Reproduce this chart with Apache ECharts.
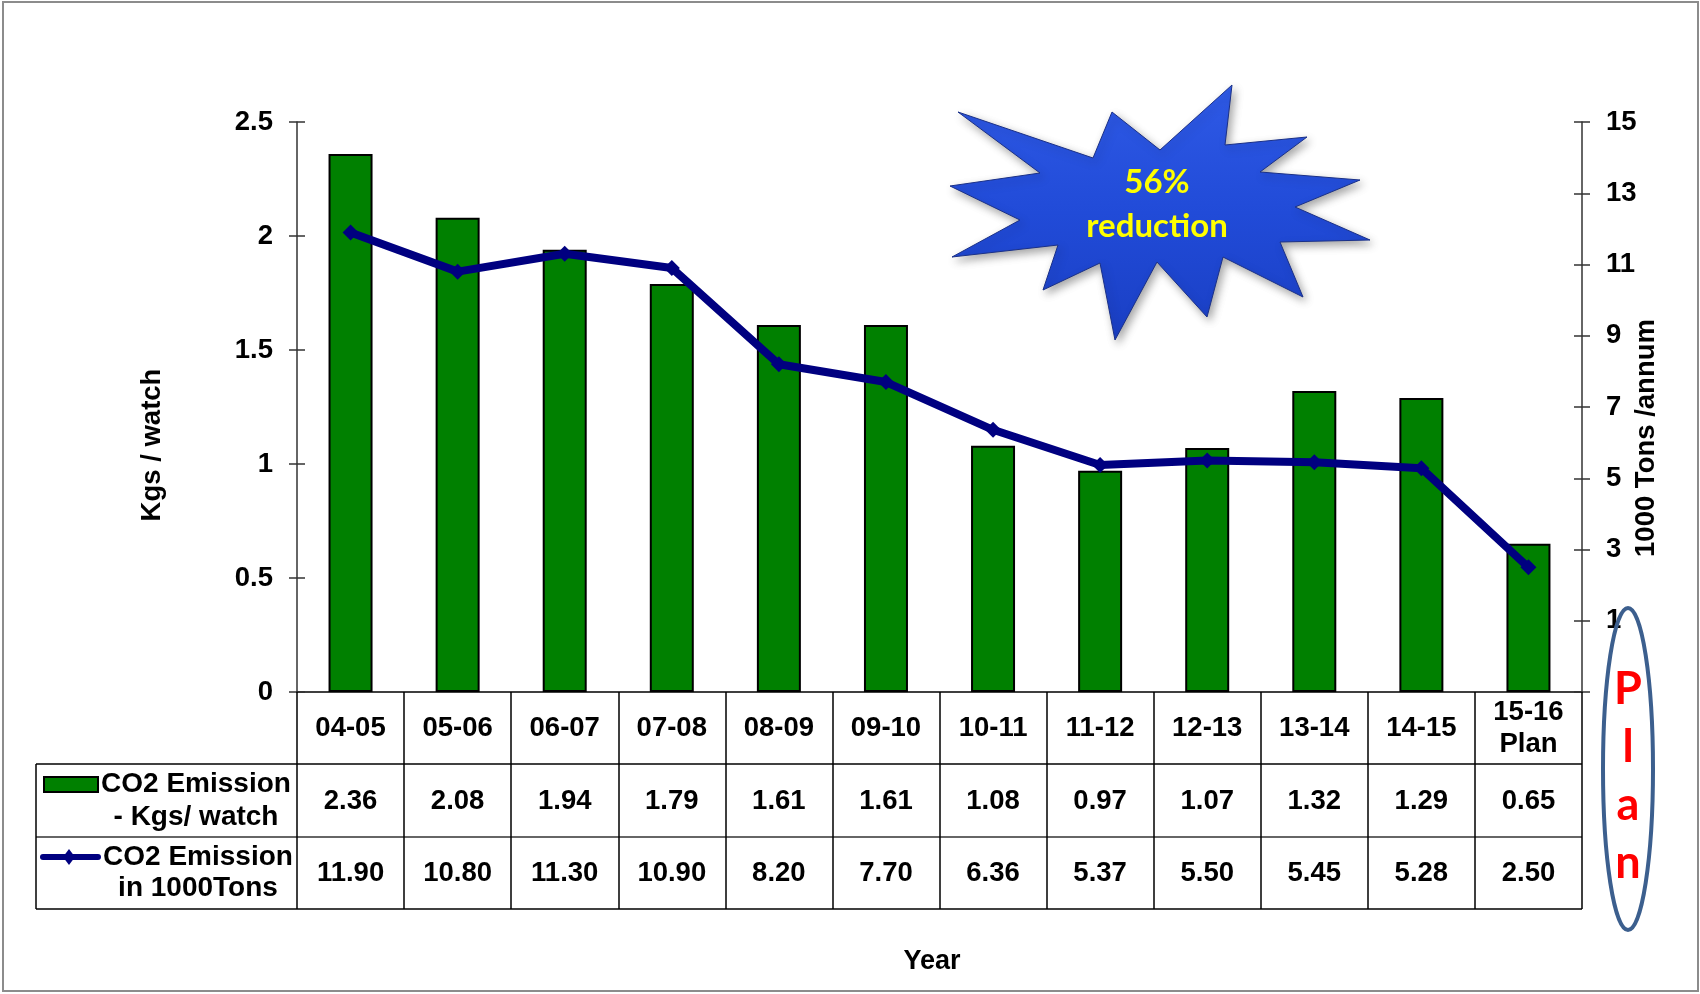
<!DOCTYPE html>
<html>
<head>
<meta charset="utf-8">
<title>CO2 Emission</title>
<script src="https://cdn.jsdelivr.net/npm/echarts@6/dist/echarts.min.js"></script>
<style>
  html, body { margin: 0; padding: 0; background: #fff; }
  #chart { width: 1700px; height: 994px; }
</style>
</head>
<body>
<div id="chart"></div>
<script>
// Financial years, with the last one being a plan figure
const categories = ['04-05', '05-06', '06-07', '07-08', '08-09', '09-10', '10-11', '11-12', '12-13', '13-14', '14-15', '15-16\nPlan'];
// CO2 emission per watch (kg)
const kgsPerWatch = [2.36, 2.08, 1.94, 1.79, 1.61, 1.61, 1.08, 0.97, 1.07, 1.32, 1.29, 0.65];
// CO2 emission in thousand tons per annum
const tonsThousand = [11.90, 10.80, 11.30, 10.90, 8.20, 7.70, 6.36, 5.37, 5.50, 5.45, 5.28, 2.50];
// Right axis ticks and labels
const rightTicks = [-1, 1, 3, 5, 7, 9, 11, 13, 15];
const rightLabels = [1, 3, 5, 7, 9, 11, 13, 15];

const FONT = "'Liberation Sans', Arial, sans-serif";
const chart = echarts.init(document.getElementById('chart'), null, { renderer: 'canvas' });

const boldText = { fontFamily: FONT, fontWeight: 'bold', fontSize: 27.5, color: '#000' };

// Starburst outline (pixel space)
const burst = [
  [958, 112], [1093, 158], [1112, 112], [1160, 150], [1232, 85], [1225, 145],
  [1307, 137], [1260, 172], [1360, 180], [1295, 207], [1370, 240], [1280, 242],
  [1303, 297], [1223, 257], [1207, 317], [1157, 262], [1115, 340], [1100, 263],
  [1043, 290], [1058, 245], [952, 257], [1020, 220], [950, 186], [1040, 173]
];

const option = {
  animation: false,
  backgroundColor: '#fff',
  grid: { left: 297, right: 118, top: 122, bottom: 302, containLabel: false },
  xAxis: [
    {
      type: 'category',
      data: categories,
      boundaryGap: true,
      axisLine: { lineStyle: { color: '#000', width: 1.5 } },
      axisTick: { show: true, length: 217, lineStyle: { color: '#000', width: 1.5 } },
      axisLabel: Object.assign({ margin: 36, verticalAlign: 'middle', lineHeight: 32, interval: 0, align: 'center' }, boldText)
    },
    {
      type: 'category',
      data: categories,
      position: 'bottom',
      axisLine: { show: false },
      axisTick: { show: false },
      axisLabel: Object.assign({
        margin: 109, verticalAlign: 'middle', interval: 0,
        formatter: (v, i) => kgsPerWatch[i].toFixed(2)
      }, boldText)
    },
    {
      type: 'category',
      data: categories,
      position: 'bottom',
      axisLine: { show: false },
      axisTick: { show: false },
      axisLabel: Object.assign({
        margin: 181, verticalAlign: 'middle', interval: 0,
        formatter: (v, i) => tonsThousand[i].toFixed(2)
      }, boldText)
    }
  ],
  yAxis: [
    {
      type: 'value', position: 'left', min: 0, max: 2.5, interval: 0.5,
      axisLine: { show: true, lineStyle: { color: '#333', width: 1.5 } },
      axisTick: { show: true, inside: false, length: 8, lineStyle: { color: '#333', width: 1.5 } },
      axisLabel: Object.assign({ margin: 24 }, boldText),
      splitLine: { show: false }
    },
    {
      type: 'value', position: 'right', min: -1, max: 15,
      axisLine: { show: true, lineStyle: { color: '#333', width: 1.5 } },
      axisTick: { show: true, inside: false, length: 8, customValues: rightTicks, lineStyle: { color: '#333', width: 1.5 } },
      axisLabel: Object.assign({ margin: 24, customValues: rightLabels }, boldText),
      splitLine: { show: false }
    },
    {
      type: 'value', position: 'left', min: 0, max: 2.5, interval: 0.5,
      axisLine: { show: false },
      axisTick: { show: true, inside: true, length: 8, lineStyle: { color: '#333', width: 1.5 } },
      axisLabel: { show: false },
      splitLine: { show: false }
    },
    {
      type: 'value', position: 'right', min: -1, max: 15,
      axisLine: { show: false },
      axisTick: { show: true, inside: true, length: 8, customValues: rightTicks, lineStyle: { color: '#333', width: 1.5 } },
      axisLabel: { show: false, customValues: rightLabels },
      splitLine: { show: false }
    }
  ],
  series: [
    {
      name: 'CO2 Emission - Kgs/ watch',
      type: 'bar',
      xAxisIndex: 0,
      yAxisIndex: 0,
      data: kgsPerWatch,
      barWidth: 44,
      itemStyle: { color: '#008000', borderColor: '#000', borderWidth: 2 }
    },
    {
      name: 'CO2 Emission in 1000Tons',
      type: 'line',
      xAxisIndex: 0,
      yAxisIndex: 1,
      data: tonsThousand,
      symbol: 'diamond',
      symbolSize: 16,
      lineStyle: { color: '#000080', width: 8 },
      itemStyle: { color: '#000080' },
      z: 5
    }
  ],
  graphic: [
    // outer frame
    { type: 'rect', shape: { x: 3, y: 2, width: 1695, height: 989 }, style: { fill: 'none', stroke: '#8c8c8c', lineWidth: 2 }, z: 1 },
    // axis titles
    { type: 'text', x: 152, y: 445, rotation: Math.PI / 2,
      style: { text: 'Kgs / watch', font: 'bold 27.5px ' + FONT, fill: '#000', align: 'center', verticalAlign: 'middle' } },
    { type: 'text', x: 1646, y: 438, rotation: Math.PI / 2,
      style: { text: '1000 Tons /annum', font: 'bold 27.5px ' + FONT, fill: '#000', align: 'center', verticalAlign: 'middle' } },
    { type: 'text', x: 932, y: 962,
      style: { text: 'Year', font: 'bold 27px ' + FONT, fill: '#000', align: 'center', verticalAlign: 'middle' } },
    // data table rules
    { type: 'line', shape: { x1: 36, y1: 764, x2: 1582, y2: 764 }, style: { stroke: '#000', lineWidth: 1.5 } },
    { type: 'line', shape: { x1: 36, y1: 837, x2: 1582, y2: 837 }, style: { stroke: '#333', lineWidth: 1.5 } },
    { type: 'line', shape: { x1: 36, y1: 909, x2: 1582, y2: 909 }, style: { stroke: '#000', lineWidth: 1.5 } },
    { type: 'line', shape: { x1: 36, y1: 764, x2: 36, y2: 909 }, style: { stroke: '#000', lineWidth: 1.5 } },
    // legend keys in the table
    { type: 'rect', shape: { x: 44, y: 777, width: 54, height: 15 }, style: { fill: '#008000', stroke: '#000', lineWidth: 2 } },
    { type: 'text', x: 196, y: 801,
      style: { text: 'CO2 Emission\n- Kgs/ watch', font: 'bold 28px ' + FONT, lineHeight: 33, fill: '#000', align: 'center', verticalAlign: 'middle' } },
    { type: 'line', shape: { x1: 43, y1: 857, x2: 98, y2: 857 }, style: { stroke: '#000080', lineWidth: 6, lineCap: 'round' } },
    { type: 'polygon', shape: { points: [[69, 849], [75, 857], [69, 865], [63, 857]] }, style: { fill: '#000080' } },
    { type: 'text', x: 198, y: 873,
      style: { text: 'CO2 Emission\nin 1000Tons', font: 'bold 28px ' + FONT, lineHeight: 31, fill: '#000', align: 'center', verticalAlign: 'middle' } },
    // starburst callout
    { type: 'polygon', z: 20,
      shape: { points: burst },
      style: {
        fill: new echarts.graphic.LinearGradient(0, 0, 0, 1, [
          { offset: 0, color: '#2f5ae6' },
          { offset: 0.5, color: '#214bd8' },
          { offset: 1, color: '#1a3fc4' }
        ]),
        stroke: '#1a3088', lineWidth: 1,
        shadowBlur: 8, shadowColor: 'rgba(0,0,0,0.35)', shadowOffsetX: 3, shadowOffsetY: 4
      } },
    { type: 'text', z: 21, x: 1157, y: 204,
      style: { text: '56%\nreduction', font: 'bold 33px Lato, sans-serif', lineHeight: 44, fill: '#ffff00', align: 'center', verticalAlign: 'middle' } },
    // plan marker
    { type: 'ellipse', z: 20, shape: { cx: 1628, cy: 769, rx: 25, ry: 161 },
      style: { fill: 'none', stroke: '#3c5f8e', lineWidth: 4 } },
    { type: 'text', z: 21, x: 1628, y: 776,
      style: { text: 'P\nl\na\nn', font: 'bold 45px Lato, sans-serif', lineHeight: 58, fill: '#ff0000', align: 'center', verticalAlign: 'middle' } }
  ]
};

chart.setOption(option);
</script>
</body>
</html>
